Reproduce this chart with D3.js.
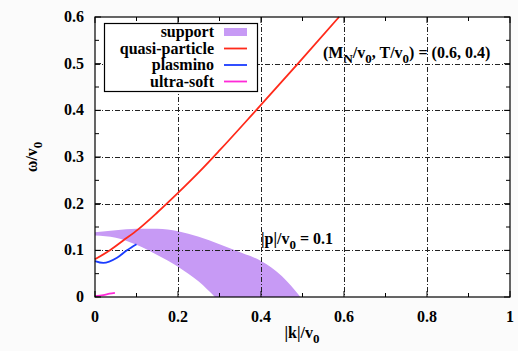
<!DOCTYPE html>
<html>
<head>
<meta charset="utf-8">
<script src="https://cdn.jsdelivr.net/npm/d3@7"></script>
<style>
  body { margin: 0; background: #fbfbfb; }
</style>
</head>
<body>
<div id="chart"></div>
<script>
// Data
const xTicks = [0, 0.2, 0.4, 0.6, 0.8, 1];
const yTicks = [0, 0.1, 0.2, 0.3, 0.4, 0.5, 0.6];

const qpK = [0, 0.036, 0.068, 0.104, 0.15, 0.2, 0.25, 0.3, 0.388, 0.489, 0.588];
const qpW = [0.081, 0.1, 0.121, 0.145, 0.181, 0.223, 0.267, 0.314, 0.4, 0.5, 0.6];

const plK = [0, 0.02, 0.053, 0.077, 0.1];
const plW = [0.077, 0.073, 0.084, 0.1, 0.113];

const usK = [0, 0.02, 0.035, 0.048];
const usW = [0.002, 0.004, 0.007, 0.009];

// support band: upper and lower edges
const hiK = [0, 0.05, 0.1, 0.15, 0.2, 0.25, 0.3, 0.35, 0.4, 0.45, 0.495];
const hiW = [0.139, 0.143, 0.146, 0.146, 0.141, 0.129, 0.113, 0.096, 0.077, 0.045, 0];
const loK = [0, 0.05, 0.1, 0.15, 0.2, 0.25, 0.289];
const loW = [0.132, 0.127, 0.112, 0.09, 0.065, 0.033, 0];

const legendNames = ["support", "quasi-particle", "plasmino", "ultra-soft"];
const legendColors = ["#c79af5", "#ff2a1a", "#1a3cff", "#ff2ad8"];

// Set the dimensions and margins of the graph
const W = 518, H = 351;
const margin = {top: 17, right: 8, bottom: 54, left: 95};
const width = W - margin.left - margin.right;
const height = H - margin.top - margin.bottom;

const svg = d3.select("#chart").append("svg")
  .attr("width", W).attr("height", H)
  .attr("font-family", "'Liberation Serif', 'Times New Roman', 'DejaVu Serif', serif")
  .attr("font-weight", "bold");

const x = d3.scaleLinear().domain([0, 1]).range([0, width]);
const y = d3.scaleLinear().domain([0, 0.6]).range([height, 0]);

const g = svg.append("g").attr("transform", `translate(${margin.left},${margin.top})`);

g.append("rect").attr("width", width).attr("height", height).attr("fill", "#fff");

// support band: fill under upper edge, then blank out under lower edge
const area = d3.area().x(d => x(d[0])).y0(height).y1(d => y(d[1])).curve(d3.curveMonotoneX);
g.append("path")
  .datum(hiK.map((k, i) => [k, hiW[i]]))
  .attr("fill", legendColors[0]).attr("d", area);
g.append("path")
  .datum(loK.map((k, i) => [k, loW[i]]))
  .attr("fill", "#fff").attr("d", area);

// grid
const grid = g.append("g")
  .attr("stroke", "#222").attr("stroke-width", 1)
  .attr("stroke-dasharray", "5,2,1,2");
grid.selectAll(".gx").data(xTicks.slice(1, -1)).join("line")
  .attr("x1", d => Math.round(x(d)) + 0.5).attr("x2", d => Math.round(x(d)) + 0.5)
  .attr("y1", 0).attr("y2", height);
grid.selectAll(".gy").data(yTicks.slice(1, -1)).join("line")
  .attr("y1", d => Math.round(y(d)) + 0.5).attr("y2", d => Math.round(y(d)) + 0.5)
  .attr("x1", 0).attr("x2", width);

// curves
const line = d3.line().x(d => x(d[0])).y(d => y(d[1])).curve(d3.curveMonotoneX);
const series = [[qpK, qpW, legendColors[1]], [plK, plW, legendColors[2]], [usK, usW, legendColors[3]]];
series.forEach(([ks, ws, c]) => {
  g.append("path")
    .datum(ks.map((k, i) => [k, ws[i]]))
    .attr("fill", "none").attr("stroke", c).attr("stroke-width", 1.8)
    .attr("d", line);
});

// inward ticks on all four sides
const xMinor = d3.range(1, 10, 2).map(d => d / 10);
const yMinor = d3.range(1, 12, 2).map(d => d / 20);
const ticks = g.append("g").attr("stroke", "#000").attr("stroke-width", 1);
xTicks.forEach(d => {
  ticks.append("line").attr("x1", x(d)).attr("x2", x(d)).attr("y1", height).attr("y2", height - 6);
  ticks.append("line").attr("x1", x(d)).attr("x2", x(d)).attr("y1", 0).attr("y2", 6);
});
xMinor.forEach(d => {
  ticks.append("line").attr("x1", x(d)).attr("x2", x(d)).attr("y1", height).attr("y2", height - 4);
  ticks.append("line").attr("x1", x(d)).attr("x2", x(d)).attr("y1", 0).attr("y2", 4);
});
yTicks.forEach(d => {
  ticks.append("line").attr("y1", y(d)).attr("y2", y(d)).attr("x1", 0).attr("x2", 6);
  ticks.append("line").attr("y1", y(d)).attr("y2", y(d)).attr("x1", width).attr("x2", width - 6);
});
yMinor.forEach(d => {
  ticks.append("line").attr("y1", y(d)).attr("y2", y(d)).attr("x1", 0).attr("x2", 4);
  ticks.append("line").attr("y1", y(d)).attr("y2", y(d)).attr("x1", width).attr("x2", width - 4);
});

g.append("rect").attr("width", width).attr("height", height)
  .attr("fill", "none").attr("stroke", "#000").attr("stroke-width", 1.2);

// tick labels
g.selectAll(".xl").data(xTicks).join("text")
  .attr("x", d => x(d)).attr("y", height + 25)
  .attr("text-anchor", "middle").attr("font-size", 16)
  .text(d => d3.format("")(d));
g.selectAll(".yl").data(yTicks).join("text")
  .attr("x", -11).attr("y", d => y(d) + 5)
  .attr("text-anchor", "end").attr("font-size", 16)
  .text(d => d3.format("")(d));

// axis labels
const xl = svg.append("text").attr("x", 302).attr("y", 338)
  .attr("text-anchor", "middle").attr("font-size", 16);
xl.append("tspan").text("|k|/v");
xl.append("tspan").attr("dy", 5).attr("font-size", 13).text("0");

const yl = svg.append("text")
  .attr("transform", "translate(37,157) rotate(-90)")
  .attr("text-anchor", "middle").attr("font-size", 16);
yl.append("tspan").text("ω/v");
yl.append("tspan").attr("dy", 5).attr("font-size", 13).text("0");

// annotations
const a1 = svg.append("text").attr("x", 323).attr("y", 58).attr("font-size", 16);
a1.append("tspan").text("(M");
a1.append("tspan").attr("dy", 5).attr("font-size", 13).text("N");
a1.append("tspan").attr("dy", -5).text("/v");
a1.append("tspan").attr("dy", 5).attr("font-size", 13).text("0");
a1.append("tspan").attr("dy", -5).text(", T/v");
a1.append("tspan").attr("dy", 5).attr("font-size", 13).text("0");
a1.append("tspan").attr("dy", -5).text(") = (0.6, 0.4)");

const a2 = svg.append("text").attr("x", 261).attr("y", 244).attr("font-size", 16);
a2.append("tspan").text("|p|/v");
a2.append("tspan").attr("dy", 5).attr("font-size", 13).text("0");
a2.append("tspan").attr("dy", -5).text(" = 0.1");

// legend
const lg = svg.append("g");
lg.append("rect").attr("x", 104.5).attr("y", 23.5).attr("width", 153).attr("height", 68)
  .attr("fill", "#fff").attr("stroke", "#000").attr("stroke-width", 1.2);
legendNames.forEach((name, i) => {
  const cy = 32 + i * 16.5;
  lg.append("text").attr("x", 214).attr("y", cy + 5)
    .attr("text-anchor", "end").attr("font-size", 16).text(name);
  if (i === 0) {
    lg.append("rect").attr("x", 224).attr("y", cy - 4).attr("width", 23).attr("height", 8)
      .attr("fill", legendColors[i]);
  } else {
    lg.append("line").attr("x1", 224).attr("x2", 247).attr("y1", cy).attr("y2", cy)
      .attr("stroke", legendColors[i]).attr("stroke-width", 1.8);
  }
});
</script>
</body>
</html>
